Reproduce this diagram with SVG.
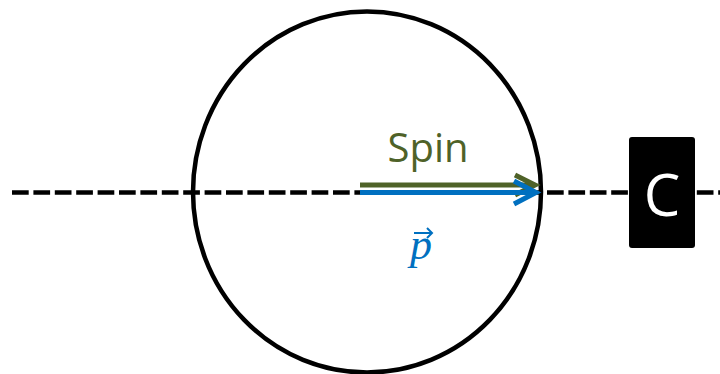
<svg xmlns="http://www.w3.org/2000/svg" width="720" height="374" viewBox="0 0 720 374">
  <style>
    .dash { stroke: #000; stroke-width: 4.5; stroke-dasharray: 16.7 4.7; fill: none; }
    .ring { stroke: #000; stroke-width: 4.5; fill: none; }
    .spin { stroke: #4F6228; stroke-width: 5; fill: none; stroke-linecap: butt; stroke-linejoin: miter; }
    .mom { stroke: #0070C0; stroke-width: 5; fill: none; stroke-linecap: butt; stroke-linejoin: miter; }
    .lbl { font-family: "Open Sans", "Liberation Sans", sans-serif; }
  </style>
  <rect width="720" height="374" fill="#fff"/>
  <g id="connectors">
    <line class="dash" x1="12" y1="192.5" x2="720" y2="192.5"/>
  </g>
  <g id="particle">
    <ellipse class="ring" cx="367" cy="192" rx="174" ry="180.5"/>
  </g>
  <g id="spin-arrow">
    <line class="spin" x1="360" y1="185" x2="534" y2="185"/>
    <polyline class="spin" points="515,175 535,185 515,195"/>
    <text class="lbl" x="428" y="162" font-size="40" fill="#4F6228" text-anchor="middle">Spin</text>
  </g>
  <g id="momentum-arrow">
    <line class="mom" x1="360" y1="192.5" x2="534" y2="192.5"/>
    <polyline class="mom" points="514,181 536,192.5 514,204"/>
    <text x="421" y="259" font-family="'Liberation Serif', 'DejaVu Serif', serif" font-style="italic" font-size="44" fill="#0070C0" text-anchor="middle">p</text>
    <g stroke="#0070C0" stroke-width="2" fill="none">
      <line x1="414" y1="233" x2="432" y2="233"/>
      <polyline points="427,228 432,233 427,238"/>
    </g>
  </g>
  <g id="box-c">
    <rect x="629" y="137" width="66" height="111" rx="3" fill="#000"/>
    <text class="lbl" x="662" y="216" font-size="58" fill="#fff" text-anchor="middle">C</text>
  </g>
</svg>
